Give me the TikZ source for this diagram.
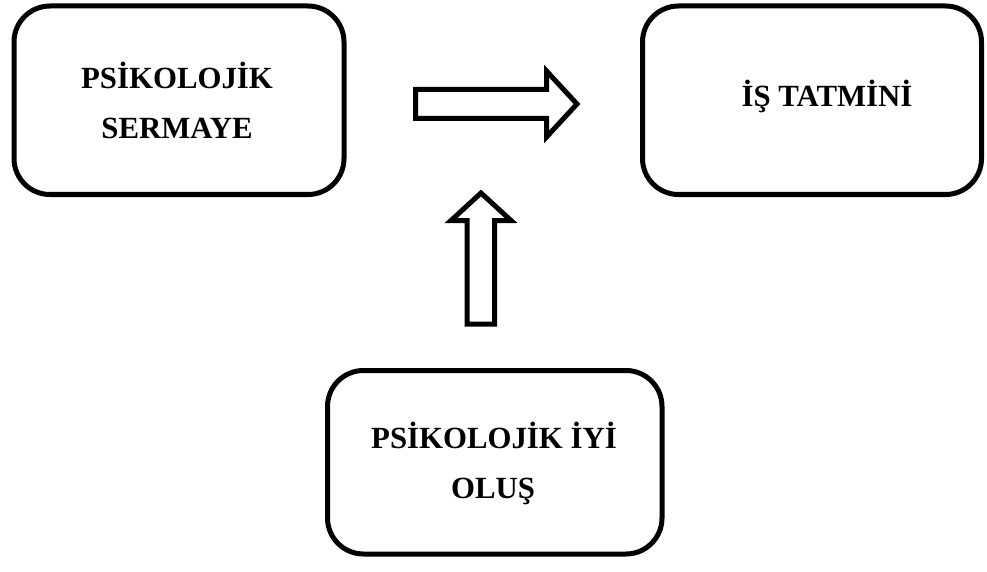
\documentclass[tikz,border=0pt]{standalone}
\usepackage{fontspec}
\setmainfont{Liberation Serif}
\begin{document}
\begin{tikzpicture}[x=1pt,y=-1pt,
  box/.style={draw=black,line width=5pt,rounded corners=36pt,fill=white,inner sep=0pt},
  lbl/.style={font=\bfseries\fontsize{30.8}{36}\selectfont,anchor=base,inner sep=0pt},
  blockarrow/.style={draw=black,line width=5pt,fill=white,line join=miter}]
\useasboundingbox (0,0) rectangle (987,572);
\node[box,minimum width=330pt,minimum height=188.5pt] (ps) at (179,100.25) {};
\node[box,minimum width=339pt,minimum height=188.5pt] (it) at (812,100.25) {};
\node[box,minimum width=334.5pt,minimum height=183.5pt] (pio) at (494.75,462.25) {};
\node[lbl] (ps1) at (177,89) {PSİKOLOJİK};
\node[lbl] (ps2) at (177,139) {SERMAYE};
\node[lbl] (it1) at (827,107) {İŞ TATMİNİ};
\node[lbl] (pio1) at (494,448) {PSİKOLOJİK İYİ};
\node[lbl] (pio2) at (493,498) {OLUŞ};
% right block arrow
\draw[blockarrow] (415.5,89.5) -- (546.5,89.5) -- (546.5,71) -- (577,104)
  -- (546.5,137) -- (546.5,118.5) -- (415.5,118.5) -- cycle;
% up block arrow
\draw[blockarrow] (467,324) -- (467,220.5) -- (451,220.5) -- (481,193)
  -- (511,220.5) -- (494.5,220.5) -- (494.5,324) -- cycle;
\end{tikzpicture}
\end{document}
